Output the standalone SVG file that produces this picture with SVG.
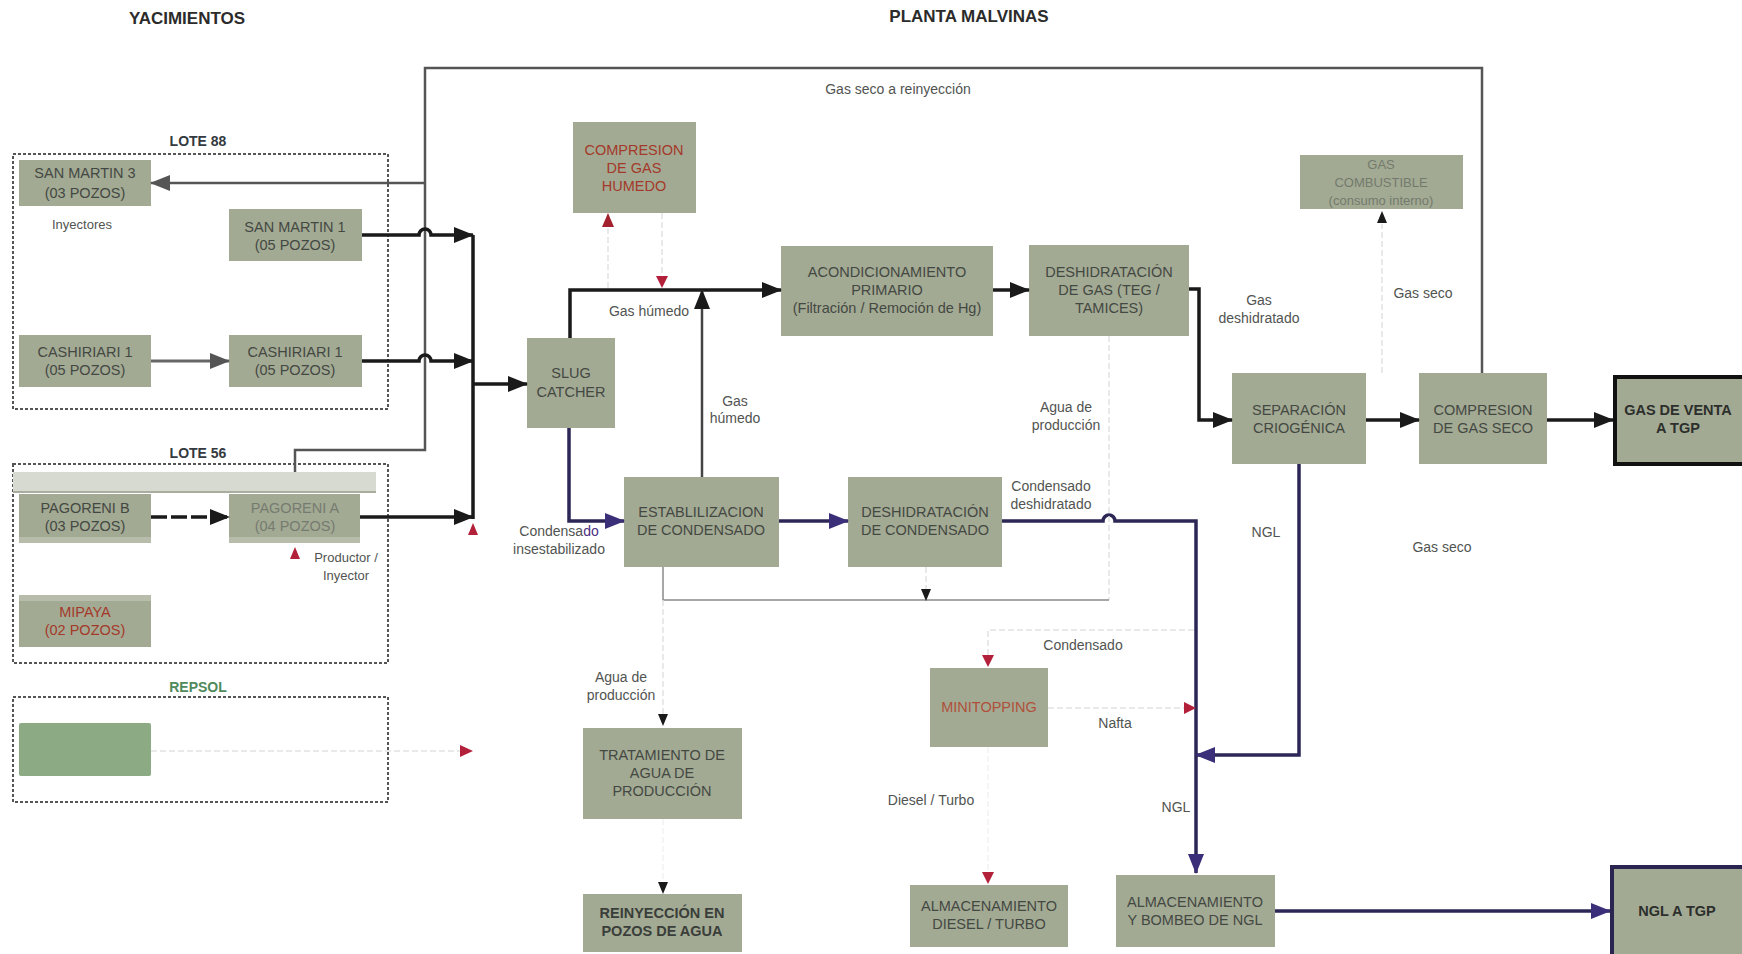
<svg xmlns="http://www.w3.org/2000/svg" width="1742" height="954" viewBox="0 0 1742 954">
  <defs>
    <style>
      text { font-family: "Liberation Sans", Arial, sans-serif; }
      .box { fill: #a3aa93; }
      .bt { font-size: 14.5px; fill: #434843; text-anchor: middle; }
      .bt-red { font-size: 14.5px; fill: #a3392a; text-anchor: middle; }
      .bt-faint { font-size: 13px; fill: #737a6d; text-anchor: middle; }
      .bt-bold { font-size: 14.5px; fill: #2c2f2c; font-weight: bold; text-anchor: middle; }
      .hdr { font-size: 17px; font-weight: bold; fill: #2b2b2b; text-anchor: middle; }
      .lote { font-size: 14px; font-weight: bold; fill: #333a40; text-anchor: middle; }
      .lbl { font-size: 14px; fill: #515451; text-anchor: middle; }
      .area { fill: none; stroke: #555; stroke-width: 2; stroke-dasharray: 3 2; }
      .blk { fill: none; stroke: #1a1a1a; stroke-width: 3.5; }
      .gry { fill: none; stroke: #555; stroke-width: 2.5; }
      .pur { fill: none; stroke: #2d2756; stroke-width: 3.5; }
      .thin { fill: none; stroke: #8a8a8a; stroke-width: 1.5; }
      .faint { fill: none; stroke: #e2e2e2; stroke-width: 1.5; stroke-dasharray: 6 3; }
      .ghost { fill: none; stroke: #f2f2f2; stroke-width: 1.5; stroke-dasharray: 6 3; }
    </style>
    <marker id="aBlk" markerUnits="userSpaceOnUse" markerWidth="20" markerHeight="16" refX="19" refY="8" orient="auto">
      <path d="M0,0 L20,8 L0,16 z" fill="#1a1a1a"/>
    </marker>
    <marker id="aGry" markerUnits="userSpaceOnUse" markerWidth="20" markerHeight="16" refX="19" refY="8" orient="auto">
      <path d="M0,0 L20,8 L0,16 z" fill="#555"/>
    </marker>
    <marker id="aPur" markerUnits="userSpaceOnUse" markerWidth="20" markerHeight="16" refX="19" refY="8" orient="auto">
      <path d="M0,0 L20,8 L0,16 z" fill="#3a2f78"/>
    </marker>
  </defs>

  <rect x="0" y="0" width="1742" height="954" fill="#ffffff"/>

  <!-- section headers -->
  <text class="hdr" x="187" y="24">YACIMIENTOS</text>
  <text class="hdr" x="969" y="22">PLANTA MALVINAS</text>

  <!-- field areas -->
  <g id="lote88">
    <rect class="area" x="13" y="154" width="375" height="255"/>
    <text class="lote" x="198" y="146">LOTE 88</text>
    <text class="lbl" x="82" y="229" style="font-size:13px">Inyectores</text>
  </g>
  <g id="lote56">
    <rect class="area" x="13" y="464" width="375" height="199"/>
    <text class="lote" x="198" y="458">LOTE 56</text>
    <rect x="13" y="472" width="363" height="20" fill="#d7dad1"/>
    <line x1="13" y1="492" x2="376" y2="492" stroke="#a9ad9f" stroke-width="2"/>
    <text class="lbl" x="346" y="562" style="font-size:13px">Productor /</text>
    <text class="lbl" x="346" y="580" style="font-size:13px">Inyector</text>
  </g>
  <g id="repsol">
    <rect class="area" x="13" y="697" width="375" height="105"/>
    <text class="lote" x="198" y="692" style="fill:#4f8a5b">REPSOL</text>
  </g>

  <!-- well clusters -->
  <g id="san-martin-3">
    <rect class="box" x="19" y="160" width="132" height="46"/>
    <text class="bt" x="85" y="178">SAN MARTIN 3</text>
    <text class="bt" x="85" y="198">(03 POZOS)</text>
  </g>
  <g id="san-martin-1">
    <rect class="box" x="229" y="209" width="133" height="52"/>
    <text class="bt" x="295" y="232">SAN MARTIN 1</text>
    <text class="bt" x="295" y="250">(05 POZOS)</text>
  </g>
  <g id="cashiriari-1a">
    <rect class="box" x="19" y="335" width="132" height="52"/>
    <text class="bt" x="85" y="357">CASHIRIARI 1</text>
    <text class="bt" x="85" y="375">(05 POZOS)</text>
  </g>
  <g id="cashiriari-1b">
    <rect class="box" x="229" y="335" width="133" height="52"/>
    <text class="bt" x="295" y="357">CASHIRIARI 1</text>
    <text class="bt" x="295" y="375">(05 POZOS)</text>
  </g>
  <g id="pagoreni-b">
    <rect class="box" x="19" y="494" width="132" height="49"/>
    <rect x="19" y="537" width="132" height="6" fill="#b8bdab"/>
    <text class="bt" x="85" y="513">PAGORENI B</text>
    <text class="bt" x="85" y="531">(03 POZOS)</text>
  </g>
  <g id="pagoreni-a">
    <rect class="box" x="229" y="494" width="131" height="49"/>
    <rect x="229" y="537" width="131" height="6" fill="#b8bdab"/>
    <text class="bt" x="295" y="513" style="fill:#767b70">PAGORENI A</text>
    <text class="bt" x="295" y="531" style="fill:#767b70">(04 POZOS)</text>
  </g>
  <g id="mipaya">
    <rect class="box" x="19" y="595" width="132" height="52"/>
    <rect x="19" y="595" width="132" height="6" fill="#b8bdab"/>
    <text class="bt-red" x="85" y="617">MIPAYA</text>
    <text class="bt-red" x="85" y="635">(02 POZOS)</text>
  </g>
  <g id="repsol-field">
    <rect x="19" y="723" width="132" height="53" rx="2" fill="#8caa84"/>
  </g>

  <!-- plant units -->
  <g id="slug-catcher">
    <rect class="box" x="527" y="338" width="88" height="90"/>
    <text class="bt" x="571" y="378">SLUG</text>
    <text class="bt" x="571" y="397">CATCHER</text>
  </g>
  <g id="compresion-gas-humedo">
    <rect class="box" x="573" y="122" width="123" height="91"/>
    <text class="bt-red" x="634" y="155">COMPRESION</text>
    <text class="bt-red" x="634" y="173">DE GAS</text>
    <text class="bt-red" x="634" y="191">HUMEDO</text>
  </g>
  <g id="acondicionamiento">
    <rect class="box" x="781" y="246" width="212" height="90"/>
    <text class="bt" x="887" y="277">ACONDICIONAMIENTO</text>
    <text class="bt" x="887" y="295">PRIMARIO</text>
    <text class="bt" x="887" y="313">(Filtración / Remoción de Hg)</text>
  </g>
  <g id="deshidratacion-gas">
    <rect class="box" x="1029" y="245" width="160" height="91"/>
    <text class="bt" x="1109" y="277">DESHIDRATACIÓN</text>
    <text class="bt" x="1109" y="295">DE GAS (TEG /</text>
    <text class="bt" x="1109" y="313">TAMICES)</text>
  </g>
  <g id="gas-combustible">
    <rect class="box" x="1300" y="155" width="163" height="54"/>
    <text class="bt-faint" x="1381" y="169">GAS</text>
    <text class="bt-faint" x="1381" y="187">COMBUSTIBLE</text>
    <text class="bt-faint" x="1381" y="205">(consumo interno)</text>
  </g>
  <g id="separacion-criogenica">
    <rect class="box" x="1232" y="373" width="134" height="91"/>
    <text class="bt" x="1299" y="415">SEPARACIÓN</text>
    <text class="bt" x="1299" y="433">CRIOGÉNICA</text>
  </g>
  <g id="compresion-gas-seco">
    <rect class="box" x="1419" y="373" width="128" height="91"/>
    <text class="bt" x="1483" y="415">COMPRESION</text>
    <text class="bt" x="1483" y="433">DE GAS SECO</text>
  </g>
  <g id="gas-venta">
    <rect class="box" x="1615" y="377" width="130" height="87" stroke="#111" stroke-width="4"/>
    <text class="bt-bold" x="1678" y="415">GAS DE VENTA</text>
    <text class="bt-bold" x="1678" y="433">A TGP</text>
  </g>
  <g id="estabilizacion">
    <rect class="box" x="624" y="477" width="155" height="90"/>
    <text class="bt" x="701" y="517">ESTABLILIZACION</text>
    <text class="bt" x="701" y="535">DE CONDENSADO</text>
  </g>
  <g id="deshidratacion-condensado">
    <rect class="box" x="848" y="477" width="154" height="90"/>
    <text class="bt" x="925" y="517">DESHIDRATACIÓN</text>
    <text class="bt" x="925" y="535">DE CONDENSADO</text>
  </g>
  <g id="minitopping">
    <rect class="box" x="930" y="668" width="118" height="79"/>
    <text class="bt-red" x="989" y="712" style="fill:#b0503a">MINITOPPING</text>
  </g>
  <g id="tratamiento-agua">
    <rect class="box" x="583" y="728" width="159" height="91"/>
    <text class="bt" x="662" y="760">TRATAMIENTO DE</text>
    <text class="bt" x="662" y="778">AGUA DE</text>
    <text class="bt" x="662" y="796">PRODUCCIÓN</text>
  </g>
  <g id="reinyeccion-agua">
    <rect class="box" x="583" y="894" width="159" height="58"/>
    <text class="bt-bold" x="662" y="918" style="fill:#3a3e3a">REINYECCIÓN EN</text>
    <text class="bt-bold" x="662" y="936" style="fill:#3a3e3a">POZOS DE AGUA</text>
  </g>
  <g id="almacenamiento-diesel">
    <rect class="box" x="910" y="885" width="158" height="62"/>
    <text class="bt" x="989" y="911">ALMACENAMIENTO</text>
    <text class="bt" x="989" y="929">DIESEL / TURBO</text>
  </g>
  <g id="almacenamiento-ngl">
    <rect class="box" x="1116" y="875" width="159" height="72"/>
    <text class="bt" x="1195" y="907">ALMACENAMIENTO</text>
    <text class="bt" x="1195" y="925">Y BOMBEO DE NGL</text>
  </g>
  <g id="ngl-tgp">
    <rect class="box" x="1612" y="867" width="133" height="90" stroke="#2a2550" stroke-width="4"/>
    <text class="bt-bold" x="1677" y="916">NGL A TGP</text>
  </g>

  <!-- stream labels -->
  <g id="labels">
    <text class="lbl" x="898" y="94">Gas seco a reinyección</text>
    <text class="lbl" x="649" y="316">Gas húmedo</text>
    <text class="lbl" x="735" y="406">Gas</text>
    <text class="lbl" x="735" y="423">húmedo</text>
    <text class="lbl" x="559" y="536">Condensa<tspan fill="#4a2f80">do</tspan></text>
    <text class="lbl" x="559" y="554">insestabilizado</text>
    <text class="lbl" x="1066" y="412">Agua de</text>
    <text class="lbl" x="1066" y="430">producción</text>
    <text class="lbl" x="1259" y="305">Gas</text>
    <text class="lbl" x="1259" y="323">deshidratado</text>
    <text class="lbl" x="1423" y="298">Gas seco</text>
    <text class="lbl" x="1051" y="491">Condensado</text>
    <text class="lbl" x="1051" y="509">deshidratado</text>
    <text class="lbl" x="1266" y="537">NGL</text>
    <text class="lbl" x="1442" y="552">Gas seco</text>
    <text class="lbl" x="621" y="682">Agua de</text>
    <text class="lbl" x="621" y="700">producción</text>
    <text class="lbl" x="1083" y="650">Condensado</text>
    <text class="lbl" x="1115" y="728">Nafta</text>
    <text class="lbl" x="931" y="805">Diesel / Turbo</text>
    <text class="lbl" x="1176" y="812">NGL</text>
  </g>

  <!-- connectors -->
  <g id="connectors">
    <!-- dry gas reinjection loop -->
    <polyline class="gry" points="1482,373 1482,68 425,68 425,450 295,450 295,472"/>
    <line class="gry" x1="425" y1="183" x2="151" y2="183" marker-end="url(#aGry)"/>

    <!-- gathering lines to manifold -->
    <path class="blk" d="M362,235 H419 A6,6 0 0 1 431,235 H473" marker-end="url(#aBlk)"/>
    <path class="blk" d="M362,361 H419 A6,6 0 0 1 431,361 H473" marker-end="url(#aBlk)"/>
    <line x1="151" y1="361" x2="229" y2="361" stroke="#666" stroke-width="3" marker-end="url(#aGry)"/>
    <line x1="151" y1="517" x2="229" y2="517" stroke="#1a1a1a" stroke-width="3.5" stroke-dasharray="16 4" marker-end="url(#aBlk)"/>
    <line class="blk" x1="360" y1="517" x2="473" y2="517" marker-end="url(#aBlk)"/>
    <line class="blk" x1="473" y1="235" x2="473" y2="519"/>
    <line class="blk" x1="473" y1="384" x2="527" y2="384" marker-end="url(#aBlk)"/>
    <path d="M473,523 L478,535 L468,535 z" fill="#b3203a"/>
    <path d="M295,547 L300,559 L290,559 z" fill="#b3203a"/>
    <line class="faint" x1="151" y1="751" x2="462" y2="751"/>
    <path d="M460,745 L473,751 L460,757 z" fill="#b3203a"/>

    <!-- wet gas train -->
    <polyline class="blk" points="570,338 570,290 781,290" marker-end="url(#aBlk)"/>
    <line class="faint" x1="608" y1="288" x2="608" y2="224"/>
    <path d="M608,213 L614,227 L602,227 z" fill="#a3202e"/>
    <line class="faint" x1="662" y1="213" x2="662" y2="278"/>
    <path d="M662,288 L668,276 L656,276 z" fill="#b3203a"/>
    <line x1="702" y1="477" x2="702" y2="290" stroke="#444" stroke-width="2.5" marker-end="url(#aBlk)"/>
    <line class="blk" x1="993" y1="290" x2="1029" y2="290" marker-end="url(#aBlk)"/>
    <polyline class="blk" points="1189,289 1199,289 1199,420 1232,420" marker-end="url(#aBlk)"/>
    <line class="blk" x1="1366" y1="420" x2="1419" y2="420" marker-end="url(#aBlk)"/>
    <line class="blk" x1="1547" y1="420" x2="1613" y2="420" marker-end="url(#aBlk)"/>
    <line class="faint" x1="1382" y1="373" x2="1382" y2="224"/>
    <path d="M1382,211 L1387,223 L1377,223 z" fill="#1a1a1a"/>

    <!-- condensate train -->
    <polyline class="pur" points="569,428 569,521 624,521" marker-end="url(#aPur)"/>
    <line class="pur" x1="779" y1="521" x2="848" y2="521" marker-end="url(#aPur)"/>
    <path class="pur" d="M1002,521 H1103 A6,6 0 0 1 1115,521 H1196 V873" marker-end="url(#aPur)"/>
    <polyline class="pur" points="1299,464 1299,755 1196,755" marker-end="url(#aPur)"/>
    <line class="pur" x1="1275" y1="911" x2="1610" y2="911" marker-end="url(#aPur)"/>

    <!-- produced water -->
    <line class="faint" x1="1109" y1="336" x2="1109" y2="600"/>
    <polyline class="thin" points="663,567 663,600 1109,600"/>
    <line class="faint" x1="926" y1="567" x2="926" y2="590"/>
    <path d="M926,601 L931,589 L921,589 z" fill="#1a1a1a"/>
    <line class="faint" x1="663" y1="600" x2="663" y2="714"/>
    <path d="M663,726 L668,714 L658,714 z" fill="#1a1a1a"/>
    <line class="ghost" x1="663" y1="819" x2="663" y2="882"/>
    <path d="M663,894 L668,882 L658,882 z" fill="#1a1a1a"/>

    <!-- minitopping -->
    <polyline class="faint" points="1194,630 988,630 988,656"/>
    <path d="M988,667 L994,655 L982,655 z" fill="#b3203a"/>
    <line class="faint" x1="1048" y1="708" x2="1184" y2="708"/>
    <path d="M1196,708 L1184,702 L1184,714 z" fill="#b3203a"/>
    <line class="ghost" x1="988" y1="747" x2="988" y2="872"/>
    <path d="M988,884 L994,872 L982,872 z" fill="#b3203a"/>
  </g>
</svg>
